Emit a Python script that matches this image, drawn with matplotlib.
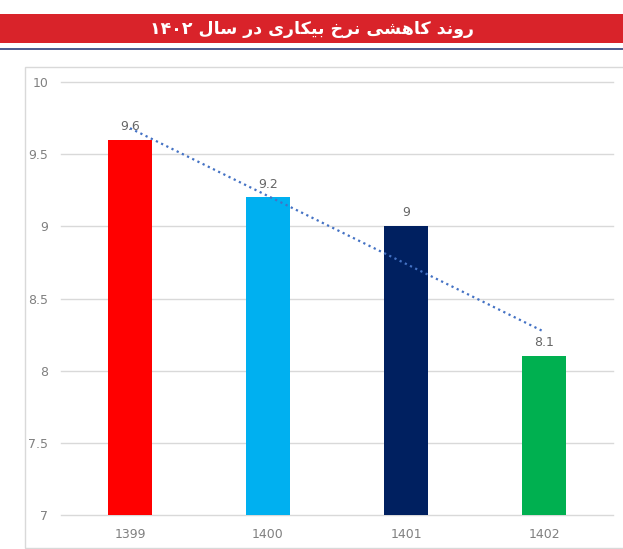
import numpy as np
import matplotlib
matplotlib.use("Agg")
import matplotlib.pyplot as plt
from matplotlib.patches import Rectangle
from matplotlib.lines import Line2D

# ---- data ----
categories = ["1399", "1400", "1401", "1402"]
values = [9.6, 9.2, 9.0, 8.1]
value_labels = ["9.6", "9.2", "9", "8.1"]
bar_colors = ["#FF0000", "#00B0F0", "#002060", "#00B050"]
y_ticks = [7, 7.5, 8, 8.5, 9, 9.5, 10]
y_tick_labels = ["7", "7.5", "8", "8.5", "9", "9.5", "10"]
title = "روند کاهشی نرخ بیکاری در سال ۱۴۰۲"

# ---- minimal Persian shaping (presentation forms + visual order) ----
FORMS = {
    'ا': ('\uFE8D', '\uFE8E', None, None),
    'ب': ('\uFE8F', '\uFE90', '\uFE91', '\uFE92'),
    'خ': ('\uFEA5', '\uFEA6', '\uFEA7', '\uFEA8'),
    'د': ('\uFEA9', '\uFEAA', None, None),
    'ر': ('\uFEAD', '\uFEAE', None, None),
    'س': ('\uFEB1', '\uFEB2', '\uFEB3', '\uFEB4'),
    'ش': ('\uFEB5', '\uFEB6', '\uFEB7', '\uFEB8'),
    'ل': ('\uFEDD', '\uFEDE', '\uFEDF', '\uFEE0'),
    'ن': ('\uFEE5', '\uFEE6', '\uFEE7', '\uFEE8'),
    'ه': ('\uFEE9', '\uFEEA', '\uFEEB', '\uFEEC'),
    'و': ('\uFEED', '\uFEEE', None, None),
    'ک': ('\uFB8E', '\uFB8F', '\uFB90', '\uFB91'),
    'ی': ('\uFBFC', '\uFBFD', '\uFBFE', '\uFBFF'),
}
RIGHT_ONLY = set('اآدذرزژو')


def shape_word(word):
    out = []
    n = len(word)
    for i, c in enumerate(word):
        if c not in FORMS:
            out.append(c)
            continue
        prev = word[i - 1] if i > 0 else None
        nxt = word[i + 1] if i < n - 1 else None
        jp = prev is not None and prev in FORMS and prev not in RIGHT_ONLY
        jn = nxt is not None and nxt in FORMS and c not in RIGHT_ONLY
        iso, fin, ini, med = FORMS[c]
        if jp and jn:
            f = med
        elif jp:
            f = fin
        elif jn:
            f = ini
        else:
            f = iso
        out.append(f)
    return ''.join(out)


def visual(text):
    words = text.split(' ')
    vis = []
    for w in words:
        if all('\u06F0' <= ch <= '\u06F9' for ch in w):
            vis.append(w)
        else:
            vis.append(shape_word(w)[::-1])
    return ' '.join(reversed(vis))


W, H = 623, 549
fig = plt.figure(figsize=(W / 100, H / 100), dpi=100)
fig.patch.set_facecolor("white")

# header banner
fig.patches.append(Rectangle((0, 1 - 43 / H), 1, 29 / H, transform=fig.transFigure,
                             facecolor="#D9232A", edgecolor="none", zorder=0))
fig.lines.append(Line2D([0, 1], [1 - 49.3 / H, 1 - 49.3 / H], transform=fig.transFigure,
                        color="#2F3F7A", lw=1.2))
fig.text(311.5 / W, 1 - 29 / H, visual(title), ha="center", va="center", color="white",
         fontsize=12.5, fontweight="bold", family=["DejaVu Sans"])

# chart border (extends past right edge)
fig.patches.append(Rectangle((24.5 / W, 1 - 548 / H), 1.2, (548 - 66.5) / H,
                             transform=fig.transFigure, facecolor="none",
                             edgecolor="#D9D9D9", lw=1.0, zorder=0))

ax = fig.add_axes([61 / W, 1 - 515 / H, (613 - 61) / W, (515 - 82) / H])
x = np.arange(len(categories))
ax.bar(x, values, width=0.32, color=bar_colors, zorder=2, bottom=0)
ax.set_xlim(-0.5, len(categories) - 0.5)
ax.set_ylim(7, 10)
ax.set_yticks(y_ticks)
ax.set_yticklabels(y_tick_labels)
ax.set_xticks(x)
ax.set_xticklabels(categories)
ax.tick_params(length=0, labelsize=9, colors="#808080")
ax.tick_params(axis="y", pad=9)
ax.tick_params(axis="x", pad=9)
for s in ax.spines.values():
    s.set_visible(False)
ax.grid(axis="y", color="#D9D9D9", lw=1.0, zorder=0)
ax.set_axisbelow(True)
for gl in ax.get_ygridlines():
    gl.set_clip_on(False)

# linear trendline
coef = np.polyfit(x, values, 1)
ax.plot(x, np.polyval(coef, x), color="#4472C4", lw=1.6,
        linestyle=(0, (1, 1.6)), zorder=3)

for xi, v, lab in zip(x, values, value_labels):
    ax.annotate(lab, (xi, v), xytext=(0, 5), textcoords="offset points",
                ha="center", va="bottom", fontsize=9, color="#666666", zorder=4)

fig.savefig("out.png", dpi=100)
